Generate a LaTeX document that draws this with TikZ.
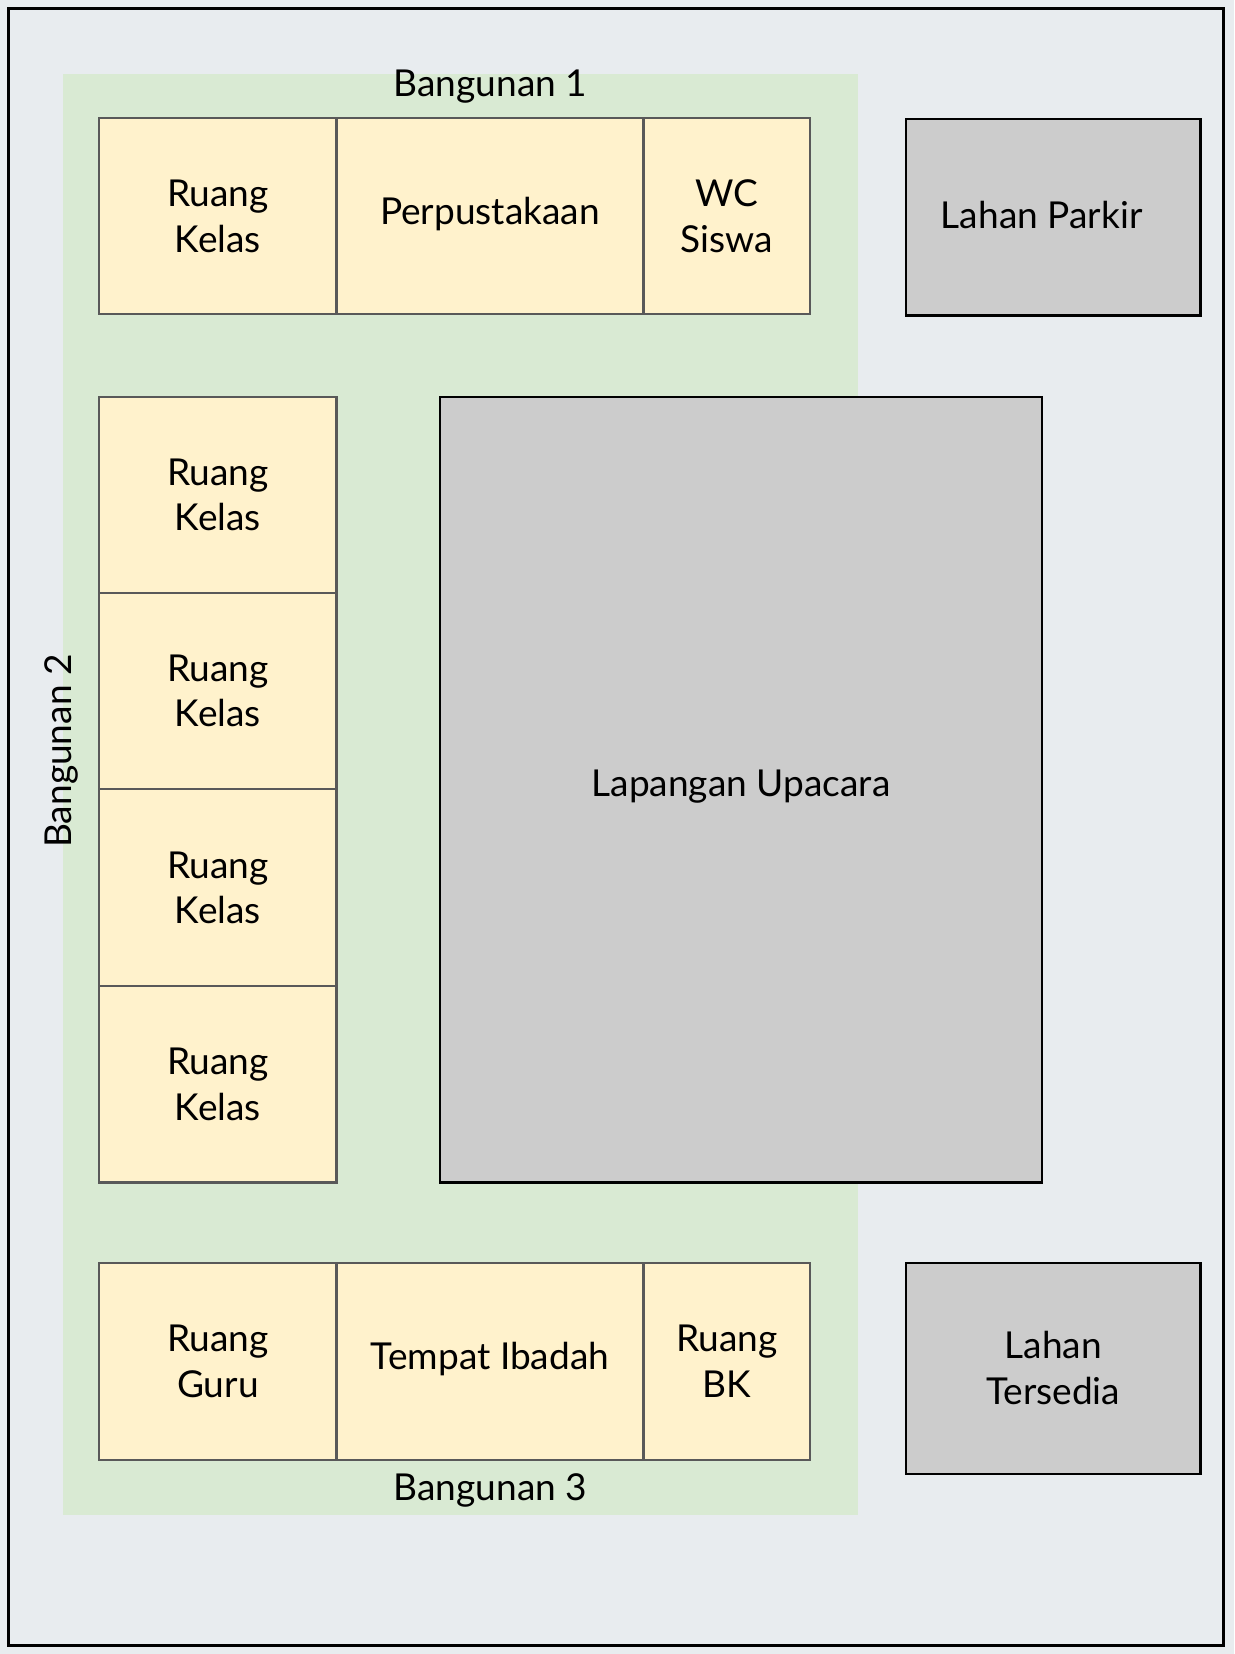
\documentclass[tikz,border=0pt]{standalone}
\usepackage{fontspec}
\setmainfont{Lato}
\definecolor{bg}{HTML}{E8ECEF}
\definecolor{grn}{HTML}{D9EAD3}
\definecolor{yel}{HTML}{FFF2CC}
\definecolor{gry}{HTML}{CCCCCC}
\definecolor{edge}{HTML}{595959}
\begin{document}
\begin{tikzpicture}[x=0.02cm,y=-0.02cm,
  every node/.style={font=\fontsize{20}{24.5}\selectfont,align=center},
  room/.style={fill=yel,draw=edge,line width=1.2pt},
  land/.style={fill=gry,draw=black,line width=1.2pt}]
\fill[bg] (0,0) rectangle (1170,1568);
\useasboundingbox (0,0) rectangle (1170,1568);
\draw[line width=1.5pt] (8,8) rectangle (1160,1560);
\fill[grn] (60,70) rectangle (813,1436);
% top
\draw[room] (94,112) rectangle (319,298) node[midway] (t1) {Ruang\\Kelas};
\draw[room] (319,112) rectangle (610,298) node[midway,yshift=0.05cm] (t2) {Perpustakaan};
\draw[room] (610,112) rectangle (768,298) node[midway] (t3) {WC\\Siswa};
% left
\draw[room] (94,376) rectangle (319,562) node[midway] (l1) {Ruang\\Kelas};
\draw[room] (94,562) rectangle (319,748) node[midway] (l2) {Ruang\\Kelas};
\draw[room] (94,748) rectangle (319,935) node[midway] (l3) {Ruang\\Kelas};
\draw[room] (94,935) rectangle (319,1121) node[midway] (l4) {Ruang\\Kelas};
% bottom
\draw[room] (94,1197) rectangle (319,1384) node[midway] (b1) {Ruang\\Guru};
\draw[room] (319,1197) rectangle (610,1384) node[midway,yshift=0.05cm] (b2) {Tempat Ibadah};
\draw[room] (610,1197) rectangle (768,1384) node[midway] (b3) {Ruang\\BK};
% lands
\draw[land] (417,376) rectangle (988,1121) node[midway,yshift=0.05cm] (lap) {Lapangan Upacara};
\draw[land] (859,113) rectangle (1138,299) node[midway,xshift=-0.22cm,yshift=0.05cm] (park) {Lahan Parkir};
\draw[land] (859,1197) rectangle (1138,1397) node[midway] (ters) {Lahan\\Tersedia};
% labels
\node (bg1) at (465,82) {Bangunan 1};
\node (bg3) at (465,1413) {Bangunan 3};
\node[rotate=90] (bg2) at (58,712) {Bangunan 2};
\end{tikzpicture}
\end{document}
